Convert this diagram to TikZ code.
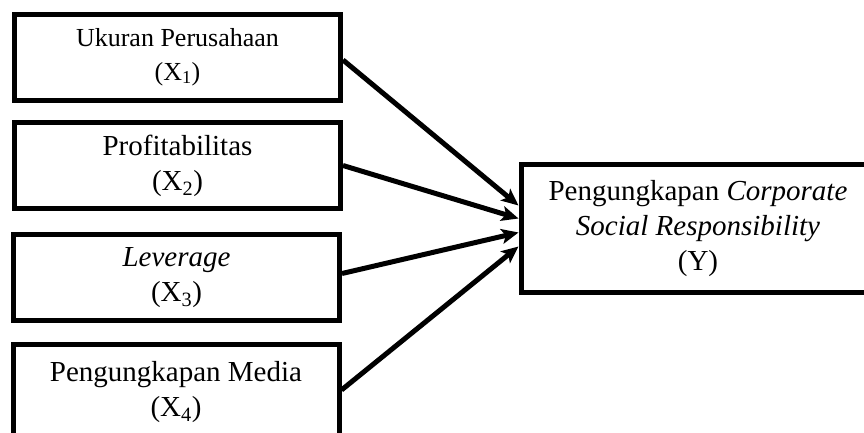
\documentclass[tikz,border=0pt]{standalone}
\usepackage{fontspec}
\setmainfont{Liberation Serif}
\usetikzlibrary{arrows.meta}

\begin{document}
\begin{tikzpicture}[
  x = 1pt, y = -1pt,
  every node/.style = {draw, line width = 5pt, align = center, inner sep = 0pt,
                       font = \fontsize{29}{35}\selectfont},
  var/.style = {minimum width = 326pt, minimum height = 86pt},
  dep/.style = {minimum width = 354pt, minimum height = 128pt},
  link/.style = {line width = 5pt, -{Stealth[length = 17pt, width = 15pt, inset = 4pt]}}
  ]
  \path[use as bounding box, clip] (0,0) rectangle (864,432);
  \node[var, font = \fontsize{26}{34}\selectfont] (x1) at (177.5,57) {Ukuran Perusahaan\\(X\textsubscript{1})};
  \node[var] (x2) at (177.5,165.5) {Profitabilitas\\(X\textsubscript{2})};
  \node[var] (x3) at (176.5,277.5) {\textit{Leverage}\\(X\textsubscript{3})};
  \node[var, minimum height = 96pt] (x4) at (176,392) {Pengungkapan Media\\(X\textsubscript{4})};
  \node[dep] (y) at (698,228.5) {Pengungkapan \textit{Corporate}\\\textit{Social Responsibility}\\(Y)};
  % arrows into Y
  \draw[link] ([yshift = -3pt]x1.east) -- ([yshift = 23pt]y.west);
  \draw[link] (x2.east) -- ([yshift = 10pt]y.west);
  \draw[link] ([yshift = 4pt]x3.east) -- ([yshift = -4pt]y.west);
  \draw[link] ([yshift = 2pt]x4.east) -- ([yshift = -18pt]y.west);
\end{tikzpicture}
\end{document}
